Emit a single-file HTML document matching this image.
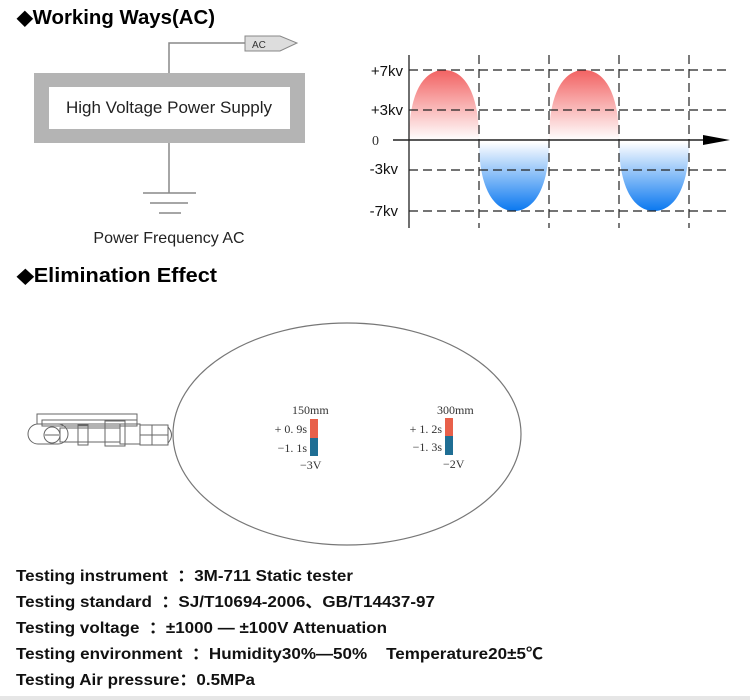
<!DOCTYPE html>
<html><head><meta charset="utf-8"><style>
html,body{margin:0;padding:0;background:#fff;}
body{width:750px;height:700px;overflow:hidden;position:relative;font-family:"Liberation Sans",Arial,"Noto Sans CJK SC",sans-serif;}
</style></head><body>
<svg width="750" height="700" viewBox="0 0 750 700" xmlns="http://www.w3.org/2000/svg" style="position:absolute;left:0;top:0">
<defs>
<linearGradient id="rg" x1="0" y1="0" x2="0" y2="1"><stop offset="0" stop-color="#f26262"/><stop offset="1" stop-color="#fff"/></linearGradient>
<linearGradient id="bg" x1="0" y1="0" x2="0" y2="1"><stop offset="0" stop-color="#fff"/><stop offset="1" stop-color="#0a78f0"/></linearGradient>
</defs>
<text x="17" y="24" font-family="Liberation Sans, sans-serif" font-weight="bold" font-size="20" fill="#000" textLength="198" lengthAdjust="spacingAndGlyphs">◆Working Ways(AC)</text>
<text x="17" y="282" font-family="Liberation Sans, sans-serif" font-weight="bold" font-size="20" fill="#000" textLength="200" lengthAdjust="spacingAndGlyphs">◆Elimination Effect</text>
<polyline points="169,73 169,43 245,43" fill="none" stroke="#888" stroke-width="1.5"/>
<polygon points="245,36 280,36 297,43 280,51 245,51" fill="#ddd" stroke="#888" stroke-width="1"/>
<text x="252" y="48" font-size="10" fill="#333" font-family="Liberation Sans, sans-serif">AC</text>
<rect x="34" y="73" width="271" height="70" fill="#b4b4b4"/>
<rect x="49" y="87" width="241" height="42" fill="#fff"/>
<text x="169" y="113" text-anchor="middle" font-size="17" fill="#222" font-family="Liberation Sans, sans-serif">High Voltage Power Supply</text>
<line x1="169" y1="143" x2="169" y2="193" stroke="#888" stroke-width="1.5"/>
<line x1="143" y1="193" x2="196" y2="193" stroke="#888" stroke-width="1.5"/>
<line x1="150" y1="203" x2="188" y2="203" stroke="#888" stroke-width="1.5"/>
<line x1="159" y1="213" x2="181" y2="213" stroke="#888" stroke-width="1.5"/>
<text x="169" y="243" text-anchor="middle" font-size="16" fill="#222" font-family="Liberation Sans, sans-serif">Power Frequency AC</text>
<path d="M409,140 C409,90 425,70 444,70 C463,70 479,90 479,140 Z" fill="url(#rg)"/>
<path d="M549,140 C549,90 565,70 584,70 C603,70 619,90 619,140 Z" fill="url(#rg)"/>
<path d="M479,142 C479,190 495,211 514,211 C533,211 549,190 549,142 Z" fill="url(#bg)"/>
<path d="M619,142 C619,190 635,211 654,211 C673,211 689,190 689,142 Z" fill="url(#bg)"/>
<g stroke="#222" stroke-width="1.2" stroke-dasharray="9,5" fill="none">
<line x1="409" y1="70" x2="730" y2="70"/>
<line x1="409" y1="110" x2="730" y2="110"/>
<line x1="409" y1="170" x2="730" y2="170"/>
<line x1="409" y1="211" x2="730" y2="211"/>
<line x1="479" y1="55" x2="479" y2="228"/>
<line x1="549" y1="55" x2="549" y2="228"/>
<line x1="619" y1="55" x2="619" y2="228"/>
<line x1="689" y1="55" x2="689" y2="228"/>
</g>
<line x1="409" y1="55" x2="409" y2="228" stroke="#222" stroke-width="1.3"/>
<line x1="393" y1="140" x2="710" y2="140" stroke="#222" stroke-width="1.5"/>
<polygon points="703,135 730,140 703,145" fill="#000"/>
<g font-family="Liberation Sans, sans-serif" font-size="15" fill="#111" text-anchor="end">
<text x="403" y="76">+7kv</text>
<text x="403" y="115">+3kv</text>
<text x="398" y="174">-3kv</text>
<text x="398" y="216">-7kv</text>
</g>
<text x="372" y="145" font-family="Liberation Serif, serif" font-size="14" fill="#333">0</text>
<ellipse cx="347" cy="434" rx="174" ry="111" fill="none" stroke="#777" stroke-width="1.2"/>
<g fill="none" stroke="#666" stroke-width="1">
<rect x="37" y="414" width="100" height="10"/>
<rect x="42" y="420" width="95" height="6"/>
<rect x="28" y="424" width="40" height="20" rx="10"/>
<circle cx="52" cy="435" r="8"/>
<line x1="45" y1="435" x2="59" y2="435"/>
<rect x="60" y="428" width="60" height="14"/>
<rect x="78" y="425" width="10" height="20"/>
<rect x="105" y="421" width="20" height="25"/>
<rect x="120" y="424" width="20" height="20"/>
<rect x="140" y="425" width="28" height="20"/>
<line x1="152" y1="425" x2="152" y2="445"/>
<line x1="140" y1="435" x2="168" y2="435"/>
<path d="M168,427 Q175,435 168,443"/>
</g>
<rect x="310" y="419" width="8" height="19" fill="#e8604a"/>
<rect x="310" y="438" width="8" height="18" fill="#1f6e94"/>
<rect x="445" y="418" width="8" height="18" fill="#e8604a"/>
<rect x="445" y="436" width="8" height="19" fill="#1f6e94"/>
<g font-family="Liberation Serif, serif" font-size="12" fill="#333">
<text x="292" y="414">150mm</text>
<text x="307" y="433" text-anchor="end">+ 0. 9s</text>
<text x="307" y="452" text-anchor="end">−1. 1s</text>
<text x="300" y="469">−3V</text>
<text x="437" y="414">300mm</text>
<text x="442" y="433" text-anchor="end">+ 1. 2s</text>
<text x="442" y="451" text-anchor="end">−1. 3s</text>
<text x="443" y="468">−2V</text>
</g>
<g font-family="Liberation Sans, 'Noto Sans CJK SC', sans-serif" font-weight="bold" font-size="16" fill="#111">
<text x="16" y="581" textLength="337" lengthAdjust="spacingAndGlyphs" xml:space="preserve">Testing instrument  ：3M-711 Static tester</text>
<text x="16" y="607" textLength="419" lengthAdjust="spacingAndGlyphs" xml:space="preserve">Testing standard  ：SJ/T10694-2006、GB/T14437-97</text>
<text x="16" y="633" textLength="371" lengthAdjust="spacingAndGlyphs" xml:space="preserve">Testing voltage  ：±1000 — ±100V Attenuation</text>
<text x="16" y="659" textLength="527" lengthAdjust="spacingAndGlyphs" xml:space="preserve">Testing environment  ：Humidity30%—50%    Temperature20±5℃</text>
<text x="16" y="685" textLength="239" lengthAdjust="spacingAndGlyphs" xml:space="preserve">Testing Air pressure：0.5MPa</text>
</g>
<rect x="0" y="696" width="750" height="4" fill="#e6e6e6"/>
</svg>
</body></html>
